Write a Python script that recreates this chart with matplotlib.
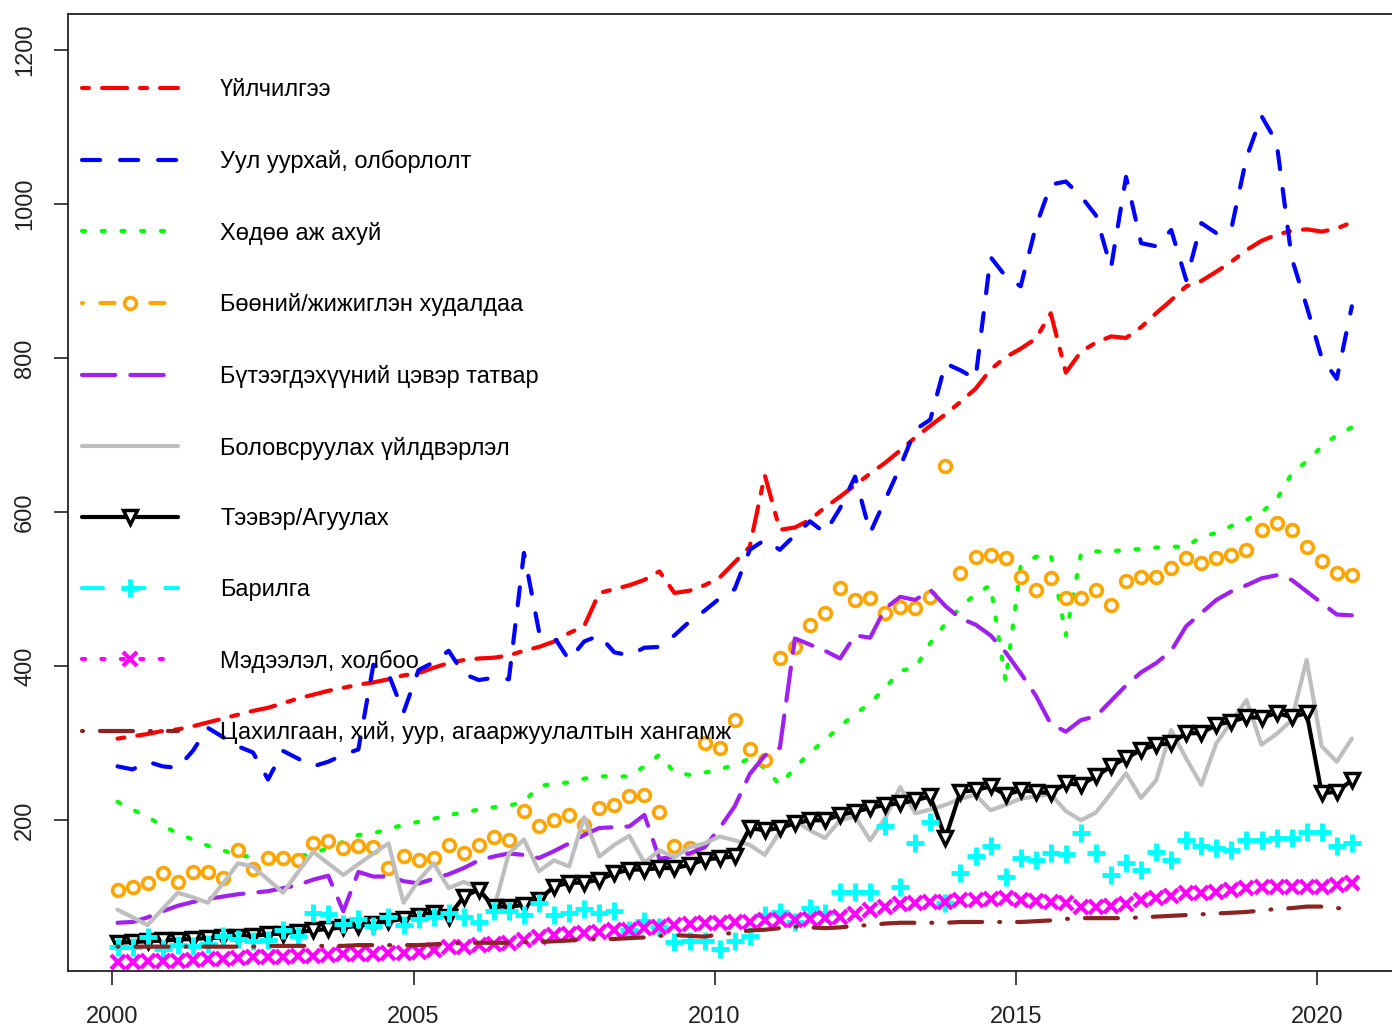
import numpy as np
import matplotlib
matplotlib.use("Agg")
import matplotlib.pyplot as plt
from matplotlib.lines import Line2D

plt.rcParams['font.family'] = ['Liberation Sans', 'DejaVu Sans']
plt.rcParams['lines.scale_dashes'] = False

# quarterly series, 2000 Q1 .. 2020 Q3 (83 quarters)
years = 2000 + (np.arange(83) * 3 + 1) / 12

labels = [
    "Үйлчилгээ",
    "Уул уурхай, олборлолт",
    "Хөдөө аж ахуй",
    "Бөөний/жижиглэн худалдаа",
    "Бүтээгдэхүүний цэвэр татвар",
    "Боловсруулах үйлдвэрлэл",
    "Тээвэр/Агуулах",
    "Барилга",
    "Мэдээлэл, холбоо",
    "Цахилгаан, хий, уур, агааржуулалтын хангамж",
]

services = [306, 309, 312, 316, 318, 322, 327, 332, 337, 342,
            346, 352, 358, 363, 368, 372, 376, 379, 383, 388,
            391, 398, 404, 408, 410, 411, 414, 420, 425, 432,
            443, 452, 495, 500, 505, 512, 523, 495, 498, 505,
            515, 535, 555, 648, 577, 580, 590, 606, 620, 635,
            650, 664, 680, 697, 712, 727, 743, 760, 785, 801,
            812, 825, 858, 781, 808, 820, 828, 826, 840, 858,
            875, 893, 900, 912, 925, 940, 952, 960, 965, 967,
            964, 968, 976]
mining = [270, 266, 276, 270, 268, 290, 320, 308, 296, 288,
          253, 290, 280, 270, 276, 285, 292, 402, 390, 340,
          395, 405, 420, 390, 382, 385, 383, 547, 445, 438,
          408, 432, 440, 418, 414, 424, 425, 440, 458, 472,
          488, 500, 551, 564, 551, 570, 588, 573, 605, 646,
          573, 616, 659, 707, 720, 793, 784, 773, 931, 906,
          893, 970, 1025, 1029, 1010, 985, 917, 1035, 949, 945,
          966, 901, 975, 962, 968, 1060, 1114, 1080, 930, 867,
          800, 773, 867]
agriculture = [224, 214, 204, 193, 183, 175, 167, 161, 155, 152,
               150, 148, 153, 157, 164, 172, 181, 183, 189, 194,
               198, 202, 207, 210, 214, 217, 219, 224, 244, 248,
               249, 254, 257, 257, 257, 270, 285, 262, 259, 262,
               266, 272, 280, 268, 246, 268, 288, 304, 322, 338,
               352, 372, 394, 398, 430, 455, 476, 494, 505, 380,
               530, 542, 545, 440, 545, 549, 549, 551, 552, 554,
               555, 555, 568, 573, 582, 590, 600, 616, 650, 666,
               685, 700, 710]
trade = [110, 114, 118, 132, 120, 133, 133, 125, 161, 137,
         151, 151, 148, 171, 173, 164, 167, 165, 138, 153,
         149, 151, 168, 158, 168, 178, 174, 212, 192, 200,
         207, 194, 216, 220, 231, 233, 211, 166, 164, 300,
         294, 330, 293, 278, 410, 425, 453, 469, 501, 486,
         488, 469, 477, 475, 490, 660, 521, 542, 544, 540,
         516, 499, 514, 488, 488, 499, 479, 510, 516, 516,
         527, 540, 534, 540, 544, 551, 577, 586, 577, 555,
         536, 521, 518]
net_tax = [67, 68, 74, 82, 89, 94, 98, 101, 104, 106,
           108, 112, 116, 123, 128, 82, 133, 127, 127, 121,
           118, 124, 130, 138, 148, 153, 157, 155, 151, 160,
           170, 181, 190, 191, 192, 207, 150, 153, 157, 165,
           190, 218, 260, 284, 294, 436, 428, 420, 410, 440,
           437, 475, 490, 486, 499, 478, 462, 454, 440, 418,
           391, 362, 325, 315, 330, 335, 355, 375, 392, 404,
           420, 452, 469, 486, 497, 505, 514, 518, 512, 497,
           482, 467, 466]
manufacturing = [84, 74, 64, 85, 106, 100, 93, 118, 144, 140,
                 123, 106, 133, 159, 144, 129, 143, 157, 170, 93,
                 122, 144, 112, 120, 112, 85, 157, 175, 134, 148,
                 140, 204, 153, 168, 180, 145, 161, 152, 165, 170,
                 179, 174, 168, 155, 185, 200, 187, 177, 200, 205,
                 174, 203, 243, 209, 214, 220, 228, 233, 213, 220,
                 228, 231, 234, 212, 200, 210, 235, 261, 229, 252,
                 317, 280, 246, 300, 328, 356, 298, 312, 330, 408,
                 296, 276, 306]
transport = [41, 42, 43, 44, 45, 46, 47, 48, 49, 50,
             52, 53, 55, 57, 59, 61, 63, 66, 69, 72,
             76, 80, 75, 101, 110, 88, 88, 90, 97, 114,
             119, 119, 123, 131, 136, 136, 138, 138, 142, 149,
             151, 153, 190, 187, 190, 196, 200, 200, 207, 211,
             216, 220, 222, 226, 231, 177, 237, 239, 244, 233,
             239, 237, 235, 248, 246, 257, 270, 281, 291, 298,
             300, 313, 313, 324, 328, 334, 333, 339, 334, 339,
             235, 237, 252]
construction = [35, 36, 49, 33, 38, 37, 40, 50, 46, 43,
                45, 57, 50, 80, 78, 65, 72, 63, 74, 64,
                72, 75, 80, 75, 68, 82, 82, 77, 93, 77,
                80, 85, 80, 82, 57, 69, 61, 42, 43, 43,
                33, 43, 50, 77, 81, 68, 86, 80, 107, 107,
                107, 193, 114, 171, 198, 93, 132, 153, 167, 127,
                151, 148, 157, 156, 183, 157, 129, 144, 136, 159,
                148, 174, 166, 164, 161, 174, 174, 177, 177, 185,
                185, 166, 171]
ict = [16, 16, 17, 18, 18, 19, 20, 20, 21, 22,
       22, 23, 24, 24, 25, 26, 26, 27, 28, 28,
       29, 32, 35, 36, 38, 39, 41, 44, 48, 51,
       52, 54, 55, 57, 58, 60, 62, 64, 66, 67,
       67, 68, 68, 70, 70, 71, 72, 73, 75, 78,
       83, 87, 91, 93, 94, 94, 96, 97, 98, 99,
       97, 95, 94, 93, 88, 88, 89, 92, 96, 99,
       102, 106, 106, 107, 110, 112, 113, 114, 114, 114,
       113, 116, 119]
utilities = [36, 36, 36, 36, 36, 36, 36, 36, 36, 36,
             37, 37, 37, 37, 37, 37, 38, 38, 38, 38,
             38, 39, 40, 41, 41, 41, 41, 42, 42, 43,
             44, 45, 46, 46, 47, 48, 50, 51, 50, 49,
             52, 54, 57, 58, 60, 62, 61, 60, 61, 63,
             64, 66, 67, 67, 67, 67, 68, 68, 68, 68,
             68, 69, 70, 72, 73, 73, 73, 73, 74, 75,
             76, 77, 78, 79, 80, 81, 83, 85, 86, 88,
             88, 86, 85]

series = [services, mining, agriculture, trade, net_tax,
          manufacturing, transport, construction, ict, utilities]

# line / marker styles (R-like)
styles = [
    dict(color='#FF0000', lw=3, dashes=(5, 9.4, 18, 9.4)),
    dict(color='#0000FF', lw=3, dashes=(13, 14.4)),
    dict(color='#00FF00', lw=3, dashes=(2.2, 12)),
    dict(color='#FFA500', lw=3, dashes=(0.7, 12.6, 10, 12.6),
         marker='o', ms=8.5, mfc='white', mec='#FFA500', mew=2.6),
    dict(color='#A020F0', lw=3, dashes=(24, 10.8)),
    dict(color='#BEBEBE', lw=3),
    dict(color='black', lw=3, marker='v', ms=10, mfc='white', mec='black', mew=2.5),
    dict(color='#00FFFF', lw=3, dashes=(15, 15),
         marker='+', ms=13, mec='#00FFFF', mew=3.5),
    dict(color='#FF00FF', lw=3, dashes=(2.2, 11.8),
         marker='x', ms=10, mec='#FF00FF', mew=3),
    dict(color='#8B2323', lw=3, dashes=(0.7, 12.2, 23.8, 12.2)),
]
points_only = [False, False, False, True, False, False, False, True, True, False]

fig = plt.figure(figsize=(13.92, 10.28), dpi=100)
ax = fig.add_axes([68 / 1392, 57 / 1028, 1333 / 1392, 957 / 1028])

handles = []
for vals, st, pts in zip(series, styles, points_only):
    kw = dict(st)
    if pts:
        kw.pop('dashes', None)
        ax.plot(years, vals, ls='none', **kw)
    else:
        ax.plot(years, vals, dash_capstyle='round', solid_capstyle='round', **kw)
    handles.append(Line2D([], [], dash_capstyle='round', solid_capstyle='round', **st))

ax.set_xlim(1999.261, 2021.40)
ax.set_ylim(4.4, 1246.4)
ax.set_xticks([2000, 2005, 2010, 2015, 2020])
ax.set_yticks([200, 400, 600, 800, 1000, 1200])
ax.tick_params(axis='both', labelsize=17, length=10, width=1.2, colors='#222222')
ax.tick_params(axis='x', pad=15)
ax.tick_params(axis='y', pad=13, labelrotation=90)
for lbl in ax.get_yticklabels():
    lbl.set_va('center')
for sp in ax.spines.values():
    sp.set_linewidth(1.3)
    sp.set_color('#222222')

ax.legend(handles, labels, loc='upper left', bbox_to_anchor=(0.0105, 0.9318),
          borderaxespad=0, borderpad=0, labelspacing=2.06, handlelength=4.07,
          handletextpad=1.78, frameon=False, fontsize=17)

fig.savefig('out.png', dpi=100)
